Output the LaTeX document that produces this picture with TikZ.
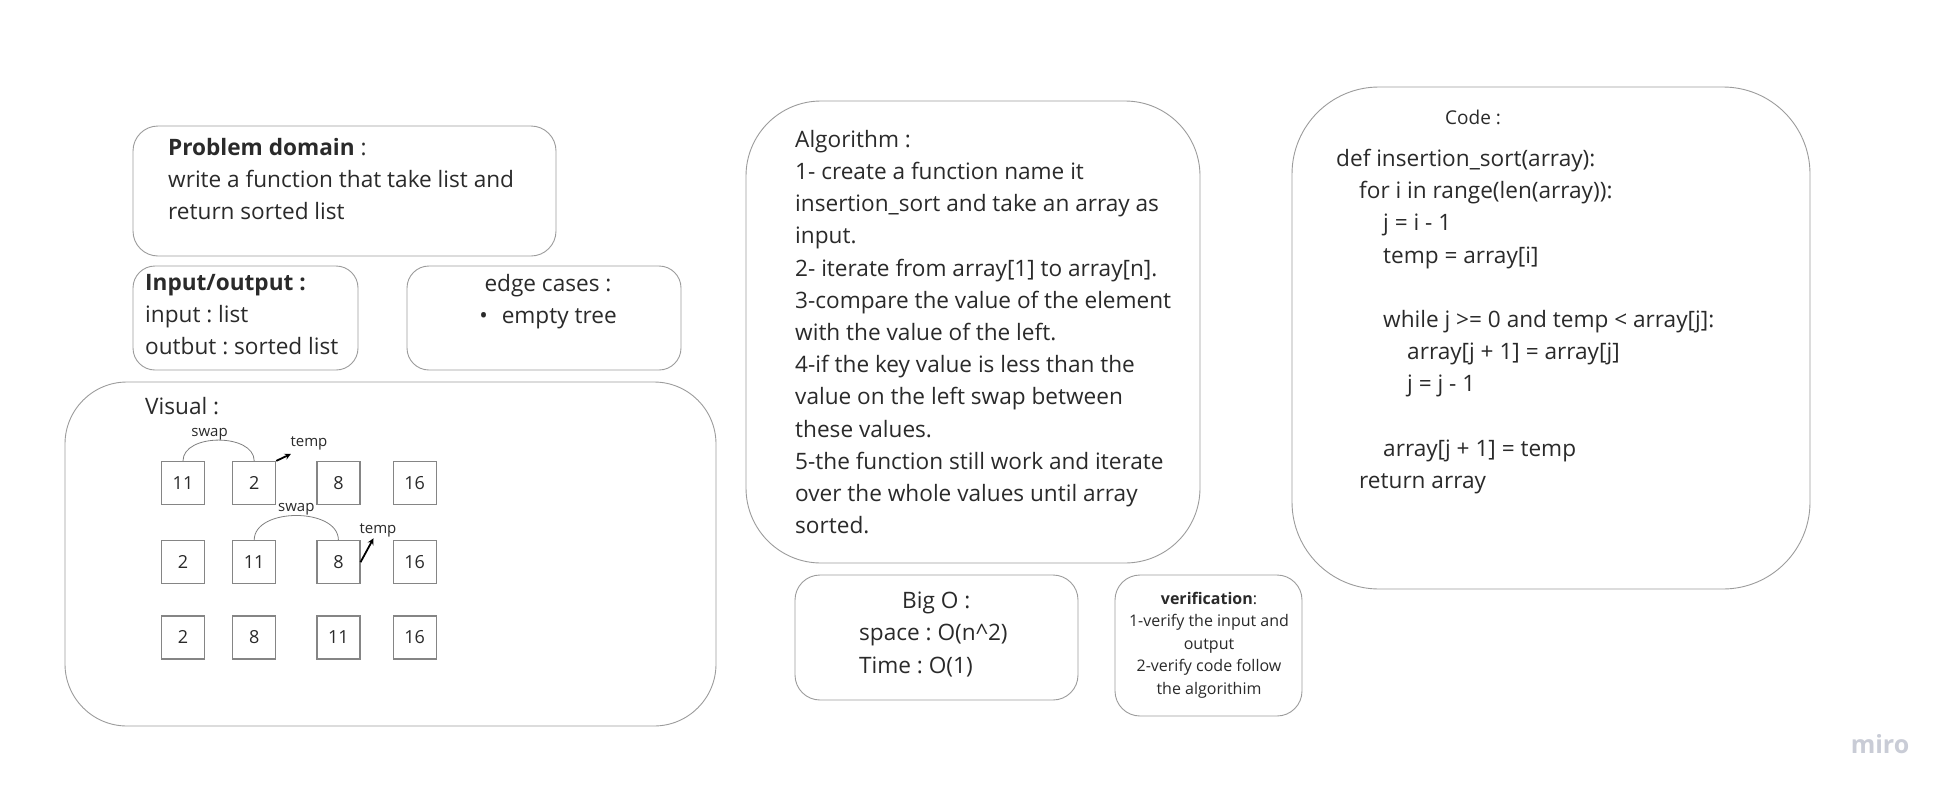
\documentclass[tikz,border=0pt]{standalone}
\usepackage{fontspec}
\setmainfont{Open Sans}
\usepackage{xcolor}
\usetikzlibrary{positioning}
\definecolor{framegray}{HTML}{9C9C9C}
\definecolor{cellgray}{HTML}{858585}
\definecolor{inkgray}{HTML}{2A2A2A}
\definecolor{mirogray}{HTML}{C9CCD6}
\frenchspacing

\begin{document}
\begin{tikzpicture}[x=1pt,y=1pt,>=stealth,
    card/.style={draw=framegray,line width=0.9pt,rounded corners=#1,inner sep=0pt},
    card/.default=25pt,
    words/.style={text=inkgray,font=\fontsize{22.6}{32.2}\selectfont,align=left,inner sep=0pt,anchor=north west},
    cell node/.style={draw=cellgray,line width=1.2pt,minimum size=43pt,inner sep=0pt,text=inkgray,font=\fontsize{18}{20}\selectfont},
    tag/.style={text=inkgray,font=\fontsize{15}{18}\selectfont,inner sep=0.5pt},
    swap arc/.style={draw=gray,line width=0.8pt},
    temp arrow/.style={->,draw=black,line width=1.8pt,shorten >=1pt}]

    \fill[white] (0,0) rectangle (1956,-798);
    \useasboundingbox (0,0) rectangle (1956,-798);

    % boxes
    \node[card,minimum width=423pt,minimum height=130pt] (domain) at (344.5,-191) {};
    \node[card=22pt,minimum width=225pt,minimum height=104pt] (inout) at (245.5,-318) {};
    \node[card=22pt,minimum width=274pt,minimum height=104pt] (edge) at (544,-318) {};
    \node[card=62pt,minimum width=651pt,minimum height=344pt] (visual) at (390.5,-554) {};
    \node[card=75pt,minimum width=454pt,minimum height=462pt] (algo) at (973,-332) {};
    \node[card,minimum width=283pt,minimum height=125pt] (bigo) at (936.5,-637.5) {};
    \node[card,minimum width=187pt,minimum height=141pt] (verif) at (1208.5,-645.5) {};
    \node[card=87pt,minimum width=518pt,minimum height=502pt] (code) at (1551,-338) {};

    % texts
    \node[words] (domaintext) at (168,-138) {\textbf{Problem domain} :\\write a function that take list and\\return sorted list};
    \node[words] (inouttext) at (145,-274) {\textbf{Input/output :}\\input : list\\outbut : sorted list};
    \node[words,align=center,anchor=north] (edgetext) at (548,-274) {edge cases :\\\textbullet\hspace{14pt}empty tree};
    \node[words] (visualtext) at (145,-397) {Visual :};
    \node[words] (algotext) at (795,-130) {Algorithm :\\1- create a function name it\\insertion\_sort and take an array as\\input.\\2- iterate from array[1] to array[n].\\3-compare the value of the element\\with the value of the left.\\4-if the key value is less than the\\value on the left swap between\\these values.\\5-the function still work and iterate\\over the whole values until array\\sorted.};
    \node[words] (bigotext) at (859,-592) {\hspace*{43pt}Big O :\\space : O(n\textasciicircum2)\\Time : O(1)};
    \node[words,align=center,anchor=north,font=\fontsize{16}{22.5}\selectfont] (veriftext) at (1209,-592) {\textbf{verification}:\\1-verify the input and\\output\\2-verify code follow\\the algorithim};
    \node[tag,font=\fontsize{19}{22}\selectfont] (codetitle) at (1473,-117) {Code :};
    \node[words] (codetext) at (1336,-149) {def insertion\_sort(array):\\\hspace*{23pt}for i in range(len(array)):\\\hspace*{47pt}j = i - 1\\\hspace*{47pt}temp = array[i]\\[32.2pt]\hspace*{47pt}while j >= 0 and temp < array[j]:\\\hspace*{71pt}array[j + 1] = array[j]\\\hspace*{71pt}j = j - 1\\[32.2pt]\hspace*{47pt}array[j + 1] = temp\\\hspace*{23pt}return array};

    % array cells
    \node[cell node] (a1) at (183,-483) {11};
    \node[cell node] (a2) [right=27pt of a1] {2};
    \node[cell node] (a3) [right=40pt of a2] {8};
    \node[cell node] (a4) [right=32pt of a3] {16};
    \node[cell node] (b1) [below=35pt of a1] {2};
    \node[cell node] (b2) [right=27pt of b1] {11};
    \node[cell node] (b3) [right=40pt of b2] {8};
    \node[cell node] (b4) [right=32pt of b3] {16};
    \node[cell node] (c1) [below=31pt of b1] {2};
    \node[cell node] (c2) [right=27pt of c1] {8};
    \node[cell node] (c3) [right=40pt of c2] {11};
    \node[cell node] (c4) [right=32pt of c3] {16};

    \node[tag] (temp1) at (309,-443) {temp};
    \node[tag] (temp2) at (378,-530) {temp};

    \draw[swap arc] (a1.north) to[out=90,in=90] node[tag,above,xshift=-9pt,inner sep=0pt] (swap1) {swap} (a2.north);
    \draw[swap arc] (b2.north) to[out=90,in=90] node[tag,above,inner sep=0pt] (swap2) {swap} (b3.north);
    \draw[temp arrow] (a2.north east) -- ([xshift=2pt,yshift=-3pt]temp1.south west);
    \draw[temp arrow] (b3.east) -- ([xshift=-4pt]temp2.south);

    \node[text=mirogray,font=\fontsize{25}{25}\selectfont\bfseries] (logo) at (1880,-744) {miro};
\end{tikzpicture}
\end{document}
